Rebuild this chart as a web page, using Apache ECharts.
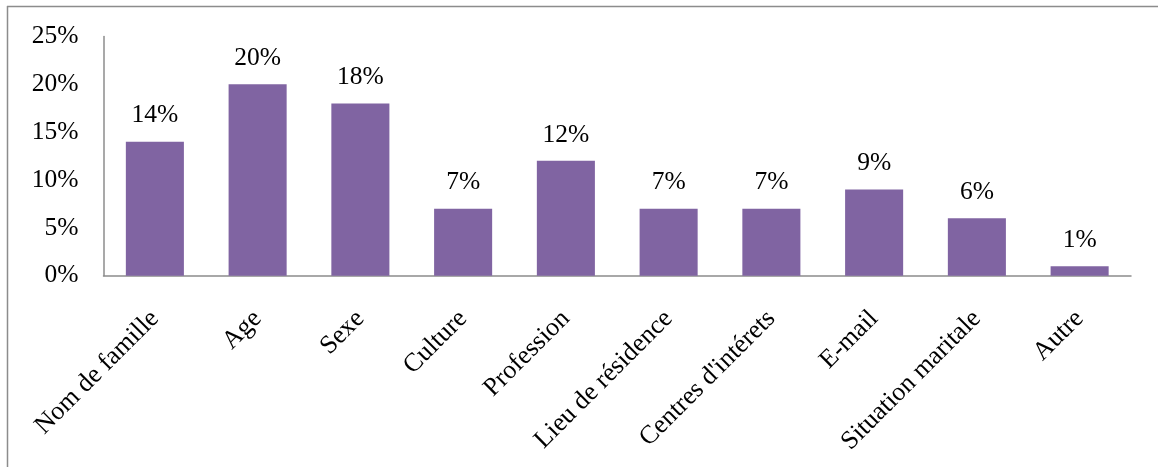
<!DOCTYPE html>
<html>
<head>
<meta charset="utf-8">
<script src="https://cdn.jsdelivr.net/npm/echarts@6/dist/echarts.min.js"></script>
<style>html,body{margin:0;padding:0;background:#fff}#c{width:1158px;height:467px}</style>
</head>
<body>
<div id="c"></div>
<script>
const categories = ["Nom de famille","Age","Sexe","Culture","Profession","Lieu de résidence","Centres d'intérets","E-mail","Situation maritale","Autre"];
const values = [14,20,18,7,12,7,7,9,6,1];
const yTicks = [0,5,10,15,20,25];

const chart = echarts.init(document.getElementById('c'));
const font = '"Liberation Serif","Times New Roman",serif';
chart.setOption({
  animation:false,
  grid:{left:103.5,right:27,top:36.4,bottom:191.3,containLabel:false},
  graphic:[
    {type:'line',shape:{x1:7,y1:6.5,x2:1158,y2:6.5},style:{stroke:'#8c8c8c',lineWidth:1.5}},
    {type:'line',shape:{x1:7.5,y1:6,x2:7.5,y2:467},style:{stroke:'#8c8c8c',lineWidth:1.5}}
  ],
  xAxis:{type:'category',data:categories,
    axisLine:{lineStyle:{color:'#8c8c8c',width:1.5}},
    axisTick:{show:false},
    axisLabel:{rotate:45,interval:0,margin:39,fontFamily:font,fontSize:26,color:'#000'}},
  yAxis:{type:'value',min:yTicks[0],max:yTicks[yTicks.length-1],interval:5,
    axisLine:{show:true,lineStyle:{color:'#8c8c8c',width:1.5}},
    axisTick:{show:false},splitLine:{show:false},
    axisLabel:{formatter:v=>v+'%',margin:25,fontFamily:font,fontSize:25.5,color:'#000'}},
  series:[{type:'bar',data:values,barWidth:'56.5%',
    itemStyle:{color:'#8064A2'},
    label:{show:true,position:'top',distance:13,formatter:p=>p.value+'%',fontFamily:font,fontSize:25.5,color:'#000'}}]
});
</script>
</body>
</html>
